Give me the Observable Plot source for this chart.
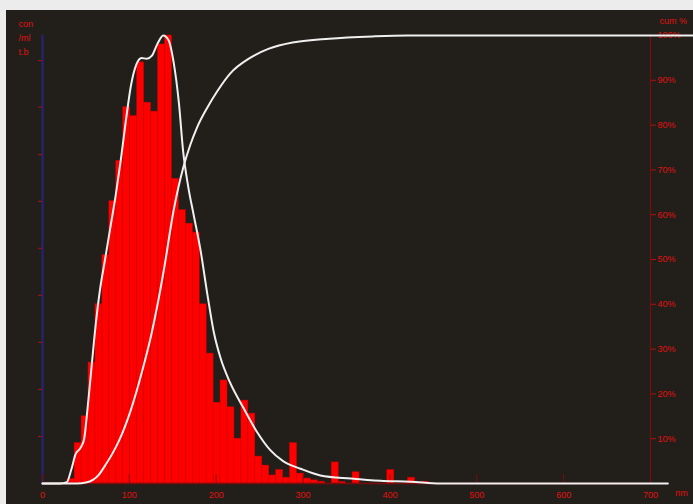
<!DOCTYPE html>
<html>
<head>
<meta charset="utf-8">
<script src="https://cdn.jsdelivr.net/npm/d3@7"></script>
<script src="https://cdn.jsdelivr.net/npm/@observablehq/plot@0.6"></script>
<style>
  html, body { margin: 0; padding: 0; background: #ececec; }
  #wrap { padding: 10px 0 0 6px; width: 687px; height: 494px; }
  #wrap svg { background: #221f1b; display: block; }
</style>
</head>
<body>
<div id="wrap"></div>
<script>
// Histogram: bin left edges (nm), bin width 8 nm, heights in % of peak
const binWidth = 8;
const binLeft = [29,37,45,53,61,69,77,85,93,101,109,117,125,133,141,149,157,165,173,181,
                 189,197,205,213,221,229,237,245,253,261,269,277,285,293,301,309,317,333,341,357,
                 397,421,437];
const binHeight = [1,9,15,27,40,51,63,72,84,82,94,85,83,98,100,68,61,58,56,40,
                   29,18,23,17,10,18.5,15.6,6,4,1.8,3,1.3,9,2.2,1.1,0.7,0.4,4.7,0.3,2.5,
                   3,1.3,0.4];

// Smoothed distribution curve (nm, % of peak)
const distX = [0,20,28,33,38,44,48,52,56,61,66,72,78,84,90,96,102,108,114,120,126,132,139,145,151,157,162,168,174,182,190,197,205,216,231,247,262,277,297,320,355,389,424,458,720];
const distY = [0,0,0.3,3,6.5,8,10,17,25,35,43,50,57,64,72,81,89,93.5,95,94.8,95.5,98,100,99,94,85,74,66,60,52,42,34,28,22.5,17,11.5,7.5,5,3.3,1.8,1.1,0.6,0.4,0,0];

// Cumulative curve (nm, %)
const cumX = [0,40,50,58,65,72,80,88,101,116,125,132,140,151,162,170,178,190,201,216,239,260,290,330,380,420,750];
const cumY = [0,0,0.2,0.8,2,4,6.5,9.5,16,26,33,39.5,48,61,70.5,75.5,79.5,84,87.5,91.5,95,97,98.5,99.3,99.8,100,100];

// Axis ticks
const xTicks = [0,100,200,300,400,500,600,700];
const rightTicks = [10,20,30,40,50,60,70,80,90,100];
const leftTicks = [10.5,21,31.5,42,52.5,63,73.4,84,94.4];
const leftLabel = "con\n/ml\nt.b";
const rightLabel = "cum %";
const xUnit = "nm";

const bins = binLeft.map((x, i) => ({x1: x, x2: x + binWidth, y: binHeight[i]}));
const dist = distX.map((x, i) => ({x, y: distY[i]}));
const cum = cumX.map((x, i) => ({x, y: cumY[i]}));

const red = "#e01010";
const axisRed = "#7a0c0c";
const font = "Liberation Sans, Arial, sans-serif";

const chart = Plot.plot({
  width: 687,
  height: 494,
  marginLeft: 36,
  marginRight: 43,
  marginTop: 25,
  marginBottom: 21,
  style: {background: "#221f1b", fontFamily: font, fontSize: "9px", overflow: "visible"},
  x: {domain: [0, 700]},
  y: {domain: [0, 100]},
  marks: [
    Plot.rectY(bins, {x1: "x1", x2: "x2", y: "y", fill: "#ff0000", stroke: "#d00000", strokeWidth: 0.5, inset: 0}),
    Plot.ruleY([0], {stroke: axisRed, strokeWidth: 1.5}),
    Plot.ruleX([0], {stroke: "#24247e", strokeWidth: 2}),
    Plot.ruleX([700], {stroke: axisRed, strokeWidth: 1.2}),
    Plot.ruleX(xTicks, {y1: 0, y2: 2, stroke: axisRed}),
    Plot.axisX({ticks: xTicks, tickSize: 0, tickPadding: 8, tickFormat: d => d, color: red, label: null}),
    Plot.axisY({anchor: "left", ticks: leftTicks, tickSize: 4, tickFormat: () => "", color: red, stroke: "#b01010", label: null}),
    Plot.axisY({anchor: "right", ticks: rightTicks, tickSize: 5, tickPadding: 2, tickFormat: d => d + "%", color: red, stroke: "#b01010", label: null}),
    Plot.line(dist, {x: "x", y: "y", stroke: "#f0f0f0", strokeWidth: 2, curve: "monotone-x"}),
    Plot.line(cum, {x: "x", y: "y", stroke: "#f0f0f0", strokeWidth: 2, curve: "monotone-x"}),
    Plot.text([leftLabel], {text: d => d, frameAnchor: "top-left", textAnchor: "start", lineAnchor: "top", lineHeight: 1.55, dx: -24, dy: -18, fill: red, fontSize: 9}),
    Plot.text([rightLabel], {text: d => d, frameAnchor: "top-right", textAnchor: "start", dx: 9, dy: -18, fill: red, fontSize: 9}),
    Plot.text([xUnit], {text: d => d, frameAnchor: "bottom-right", textAnchor: "middle", dx: 31, dy: 12, fill: red, fontSize: 9})
  ]
});
document.getElementById("wrap").appendChild(chart);
</script>
</body>
</html>
